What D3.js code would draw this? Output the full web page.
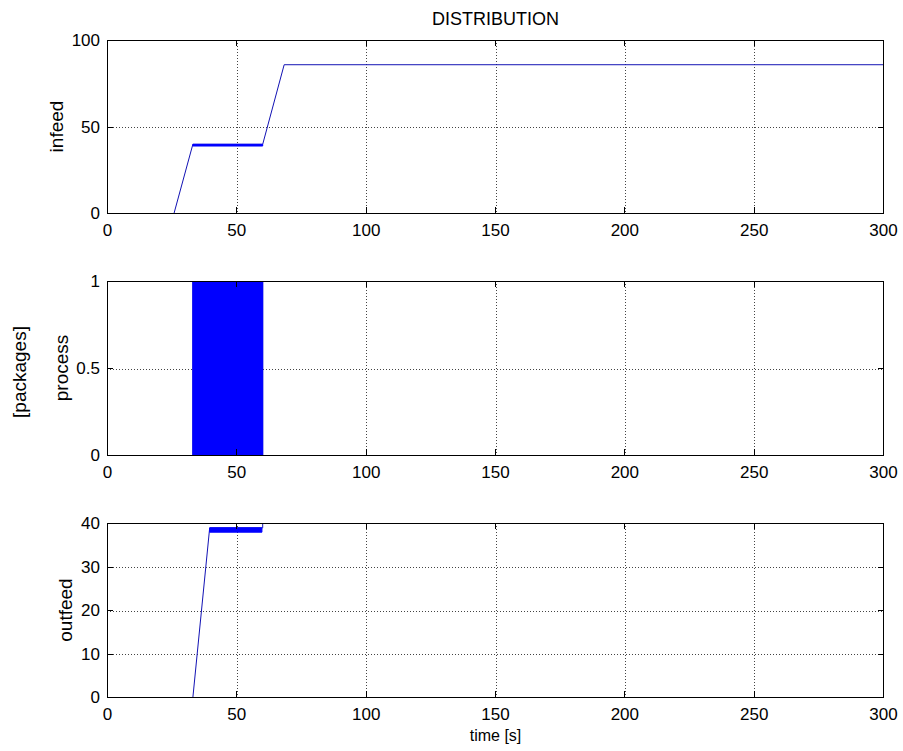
<!DOCTYPE html>
<html lang="en">
<head>
    <meta charset="UTF-8"/>
    <title>Distribution</title>
    <script src="https://d3js.org/d3.v7.min.js"></script>
    <style>
        body { margin: 0; background: #fff; }
        text { font-family: "Liberation Sans", Arial, sans-serif; fill: #000; }
        .grid line { stroke: #444; stroke-width: 1; stroke-dasharray: 1,2; }
        .box { fill: none; stroke: #000; stroke-width: 1; }
        .tick-mark { stroke: #000; stroke-width: 1; }
        .line { fill: none; stroke: #1212b4; stroke-width: 1; }
        .band { fill: #0000ff; stroke: #0000ff; stroke-width: 1; }
    </style>
</head>
<body>
<script>
    var w = 903;
    var h = 751;

    // time axis shared by all three panels
    var xTicks = [0, 50, 100, 150, 200, 250, 300];

    // infeed [packages]
    var infeedLine = [[0, 0], [25.7, 0], [33, 40], [60, 40], [68.3, 86], [300, 86]];
    var infeedBand = [[33, 39, 40], [60, 39, 40]];   // [t, low, high]
    var infeedTicks = [0, 50, 100];

    // process [packages]
    var processLine = [[0, 0], [33, 0], [33, 1], [60, 1], [60, 0], [300, 0]];
    var processBand = [[33, 0, 1], [60, 0, 1]];
    var processTicks = [0, 0.5, 1];

    // outfeed [packages]
    var outfeedLine = [[0, 0], [33, 0], [39.5, 39], [60, 39], [60, 40]];
    var outfeedBand = [[39.5, 38, 39], [59.7, 38, 39]];
    var outfeedTicks = [0, 10, 20, 30, 40];

    var left = 107, right = 884;

    var panels = [
        { name: "infeed",  top: 40,  bottom: 213, max: 100, ticks: infeedTicks,  line: infeedLine,  band: infeedBand,  labelX: 63 },
        { name: "process", top: 281, bottom: 455, max: 1,   ticks: processTicks, line: processLine, band: processBand, labelX: 68 },
        { name: "outfeed", top: 523, bottom: 697, max: 40,  ticks: outfeedTicks, line: outfeedLine, band: outfeedBand, labelX: 72 }
    ];

    var xScale = d3.scaleLinear().domain([0, 300]).range([left + 0.5, right - 0.5]);

    var svg = d3.select("body")
        .append("svg")
        .attr("width", w)
        .attr("height", h);

    var tickLen = 6;

    panels.forEach(function(p, i) {
        var yScale = d3.scaleLinear().domain([0, p.max]).range([p.bottom + 0.5, p.top + 0.5]);
        var g = svg.append("g");

        g.append("clipPath")
            .attr("id", "clip" + i)
            .append("rect")
            .attr("x", left).attr("y", p.top)
            .attr("width", right - left).attr("height", p.bottom - p.top + 1);

        // dotted grid
        var grid = g.append("g").attr("class", "grid");
        grid.selectAll(".gx")
            .data(xTicks.slice(1, -1))
            .enter().append("line")
            .attr("x1", function(d) { return Math.round(xScale(d)) + 0.5; })
            .attr("x2", function(d) { return Math.round(xScale(d)) + 0.5; })
            .attr("y1", p.top).attr("y2", p.bottom);
        grid.selectAll(".gy")
            .data(p.ticks.slice(1, -1))
            .enter().append("line")
            .attr("y1", function(d) { return Math.round(yScale(d)) + 0.5; })
            .attr("y2", function(d) { return Math.round(yScale(d)) + 0.5; })
            .attr("x1", left).attr("x2", right);

        // data
        var plot = g.append("g").attr("clip-path", "url(#clip" + i + ")");

        var area = d3.area()
            .x(function(d) { return xScale(d[0]); })
            .y0(function(d) { return yScale(d[1]); })
            .y1(function(d) { return yScale(d[2]); });

        var line = d3.line()
            .x(function(d) { return xScale(d[0]); })
            .y(function(d) { return yScale(d[1]); });

        plot.append("path")
            .datum(p.line)
            .attr("class", "line")
            .attr("d", line);

        plot.append("path")
            .datum(p.band)
            .attr("class", "band")
            .attr("d", area);

        // box
        g.append("rect")
            .attr("class", "box")
            .attr("x", left + 0.5).attr("y", p.top + 0.5)
            .attr("width", right - left - 1).attr("height", p.bottom - p.top);

        // inward ticks, all four sides
        xTicks.forEach(function(t) {
            var x = Math.round(xScale(t) - 0.5) + 0.5;
            g.append("line").attr("class", "tick-mark")
                .attr("x1", x).attr("x2", x)
                .attr("y1", p.bottom + 0.5).attr("y2", p.bottom - tickLen);
            g.append("line").attr("class", "tick-mark")
                .attr("x1", x).attr("x2", x)
                .attr("y1", p.top).attr("y2", p.top + tickLen);
        });
        p.ticks.forEach(function(t) {
            var y = Math.round(yScale(t) - 0.5) + 0.5;
            g.append("line").attr("class", "tick-mark")
                .attr("x1", left).attr("x2", left + tickLen)
                .attr("y1", y).attr("y2", y);
            g.append("line").attr("class", "tick-mark")
                .attr("x1", right).attr("x2", right - tickLen)
                .attr("y1", y).attr("y2", y);
        });

        // tick labels
        g.selectAll(".xl")
            .data(xTicks)
            .enter().append("text")
            .attr("x", function(d) { return xScale(d); })
            .attr("y", p.bottom + 23)
            .attr("text-anchor", "middle")
            .style("font-size", "17px")
            .text(function(d) { return d; });

        g.selectAll(".yl")
            .data(p.ticks)
            .enter().append("text")
            .attr("x", left - 7)
            .attr("y", function(d) { return yScale(d); })
            .attr("dy", "0.35em")
            .attr("text-anchor", "end")
            .style("font-size", "17px")
            .text(function(d) { return d; });

        // panel y label
        g.append("text")
            .attr("transform", "translate(" + p.labelX + "," + ((p.top + p.bottom) / 2) + ") rotate(-90)")
            .attr("text-anchor", "middle")
            .style("font-size", "19px")
            .text(p.name);
    });

    svg.append("text")
        .attr("x", (left + right) / 2)
        .attr("y", 25)
        .attr("text-anchor", "middle")
        .style("font-size", "18px")
        .text("DISTRIBUTION");

    svg.append("text")
        .attr("transform", "translate(26,372) rotate(-90)")
        .attr("text-anchor", "middle")
        .style("font-size", "19px")
        .text("[packages]");

    svg.append("text")
        .attr("x", (left + right) / 2)
        .attr("y", 741)
        .attr("text-anchor", "middle")
        .style("font-size", "16px")
        .text("time [s]");
</script>
</body>
</html>
